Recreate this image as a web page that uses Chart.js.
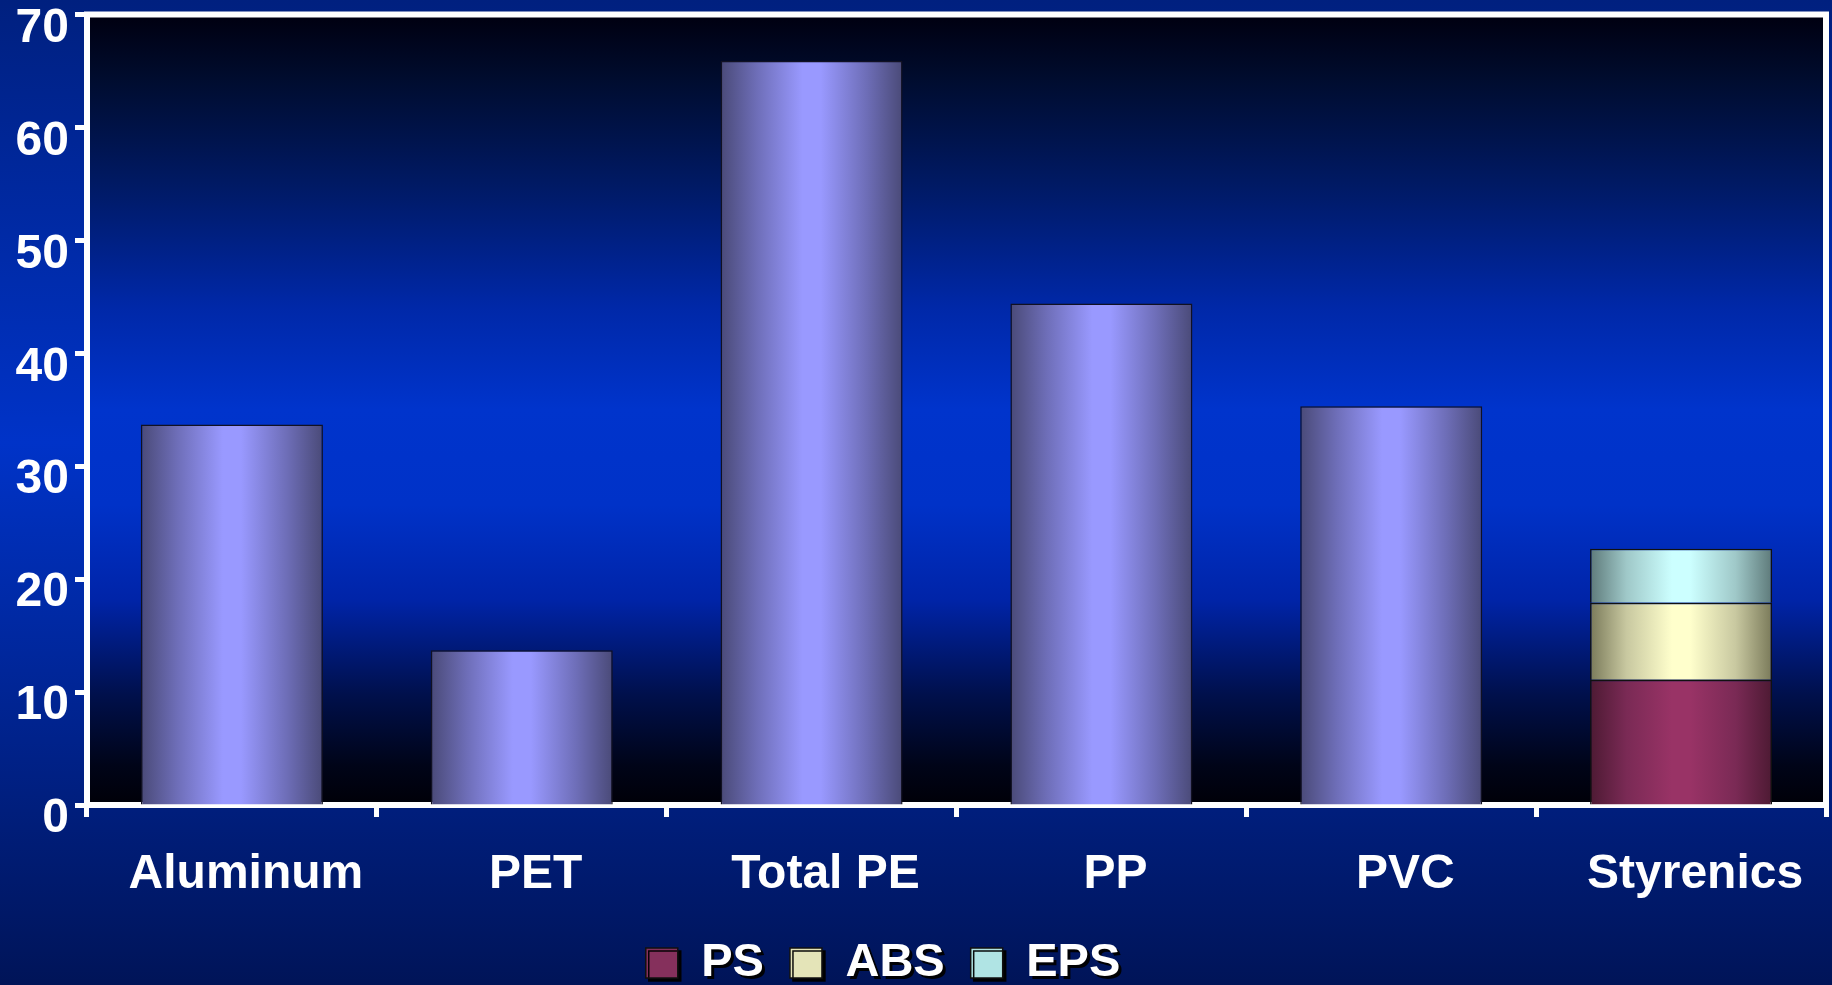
<!DOCTYPE html>
<html>
<head>
<meta charset="utf-8">
<script src="https://cdn.jsdelivr.net/npm/chart.js@4/dist/chart.umd.min.js"></script>
<style>
  html, body { margin: 0; padding: 0; background: #001a80; }
  canvas { display: block; }
</style>
</head>
<body>
<canvas id="materials" width="1832" height="985"></canvas>
<script>
const categories = ["Aluminum", "PET", "Total PE", "PP", "PVC", "Styrenics"];
const totals = [33.7, 13.7, 65.9, 44.4, 35.3, null];
const psValues = [null, null, null, null, null, 11.1];
const absValues = [null, null, null, null, null, 6.8];
const epsValues = [null, null, null, null, null, 4.8];
const yMin = 0, yMax = 70, yStep = 10;

const FONT = "'Liberation Sans', Arial, sans-serif";
const BAR_PCT = 0.628;

// horizontal dark-light-dark shading for each bar
function barFill(edge, mid, light, flat) {
  return (c) => {
    const chart = c.chart;
    const x = chart.scales.x;
    if (!chart.chartArea || !x || c.type !== "data" || c.raw == null) return flat;
    const cx = x.getPixelForValue(c.dataIndex);
    const half = (x.width / categories.length) * BAR_PCT / 2;
    const g = chart.ctx.createLinearGradient(cx - half, 0, cx + half, 0);
    g.addColorStop(0, edge);
    g.addColorStop(0.2, mid);
    g.addColorStop(0.45, light);
    g.addColorStop(0.55, light);
    g.addColorStop(0.8, mid);
    g.addColorStop(1, edge);
    return g;
  };
}

const backdrop = {
  id: "backdrop",
  beforeDraw(chart) {
    const { ctx, width, height, chartArea: a } = chart;
    ctx.save();
    const outer = ctx.createLinearGradient(0, 0, 0, height);
    outer.addColorStop(0, "#00207f");
    outer.addColorStop(0.45, "#0033c8");
    outer.addColorStop(1, "#001458");
    ctx.fillStyle = outer;
    ctx.fillRect(0, 0, width, height);

    const inner = ctx.createLinearGradient(0, a.top, 0, a.bottom);
    inner.addColorStop(0, "#000010");
    inner.addColorStop(0.08, "#000c2e");
    inner.addColorStop(0.22, "#001a66");
    inner.addColorStop(0.37, "#0028a8");
    inner.addColorStop(0.5, "#0034cc");
    inner.addColorStop(0.62, "#0032c8");
    inner.addColorStop(0.74, "#0024a8");
    inner.addColorStop(0.86, "#00104c");
    inner.addColorStop(0.95, "#000418");
    inner.addColorStop(1, "#000008");
    ctx.fillStyle = inner;
    ctx.fillRect(a.left, a.top, a.right - a.left, a.bottom - a.top);
    ctx.restore();

    // shift legend left a little and give its text a drop shadow
    const legend = chart.legend;
    if (legend && !legend._patched) {
      const draw = legend.draw;
      legend.draw = function () {
        const c = this.ctx;
        c.save();
        c.translate(-30, 0);
        c.shadowColor = "rgba(0,0,0,0.95)";
        c.shadowOffsetX = 3;
        c.shadowOffsetY = 3;
        draw.apply(this, arguments);
        c.restore();
      };
      legend._patched = true;
    }
  },
  afterDraw(chart) {
    const { ctx, chartArea: a } = chart;
    ctx.save();
    ctx.strokeStyle = "#ffffff";
    ctx.lineWidth = 6;
    ctx.beginPath();
    ctx.moveTo(a.left - 3, a.top);
    ctx.lineTo(a.right, a.top);
    ctx.lineTo(a.right, a.bottom + 3);
    ctx.stroke();
    ctx.restore();
  }
};

new Chart("materials", {
  type: "bar",
  data: {
    labels: categories,
    datasets: [
      {
        label: "Total",
        data: totals,
        backgroundColor: barFill("#4a4a78", "#6e6eb8", "#9999ff", "#8080dd"),
        borderColor: "#111122",
        borderWidth: 1.5
      },
      {
        label: "PS",
        data: psValues,
        backgroundColor: barFill("#4d1a33", "#7a2a55", "#993366", "#85305c"),
        borderColor: "#111111",
        borderWidth: 1.5
      },
      {
        label: "ABS",
        data: absValues,
        backgroundColor: barFill("#7a7a5a", "#c8c8a0", "#ffffcc", "#e4e4b8"),
        borderColor: "#111111",
        borderWidth: 1.5
      },
      {
        label: "EPS",
        data: epsValues,
        backgroundColor: barFill("#5e7a7a", "#9fc8c8", "#ccffff", "#b0e4e4"),
        borderColor: "#111111",
        borderWidth: 1.5
      }
    ]
  },
  options: {
    responsive: false,
    animation: false,
    categoryPercentage: 1,
    barPercentage: BAR_PCT,
    layout: { padding: { top: 14.5, right: 6, left: 0, bottom: -11.5 } },
    scales: {
      x: {
        stacked: true,
        z: 1,
        border: { display: true, color: "#ffffff", width: 6 },
        grid: { drawOnChartArea: false, color: "#ffffff", tickLength: 12, tickWidth: 5, offset: true },
        ticks: {
          color: "#ffffff",
          font: { family: FONT, size: 48, weight: "bold" },
          padding: 29,
          labelOffset: 14,
          maxRotation: 0,
          autoSkip: false
        },
        afterFit(scale) {
          scale.height = 108.5;
          scale.paddingLeft = 0;
          scale.paddingRight = 0;
        }
      },
      y: {
        stacked: true,
        z: 1,
        min: yMin,
        max: yMax,
        border: { display: true, color: "#ffffff", width: 6 },
        grid: { drawOnChartArea: false, color: "#ffffff", tickLength: 12, tickWidth: 5 },
        ticks: {
          stepSize: yStep,
          color: "#ffffff",
          font: { family: FONT, size: 48, weight: "bold" },
          padding: 6,
          labelOffset: 14
        },
        afterFit(scale) {
          scale.width = 87;
          scale.paddingTop = 0;
          scale.paddingBottom = 0;
        }
      }
    },
    plugins: {
      legend: {
        position: "bottom",
        labels: {
          color: "#ffffff",
          font: { family: FONT, size: 47, weight: "bold" },
          boxWidth: 32,
          boxHeight: 30,
          padding: 26,
          filter: (item) => item.datasetIndex > 0
        }
      },
      tooltip: { enabled: false }
    }
  },
  plugins: [backdrop]
});
</script>
</body>
</html>
